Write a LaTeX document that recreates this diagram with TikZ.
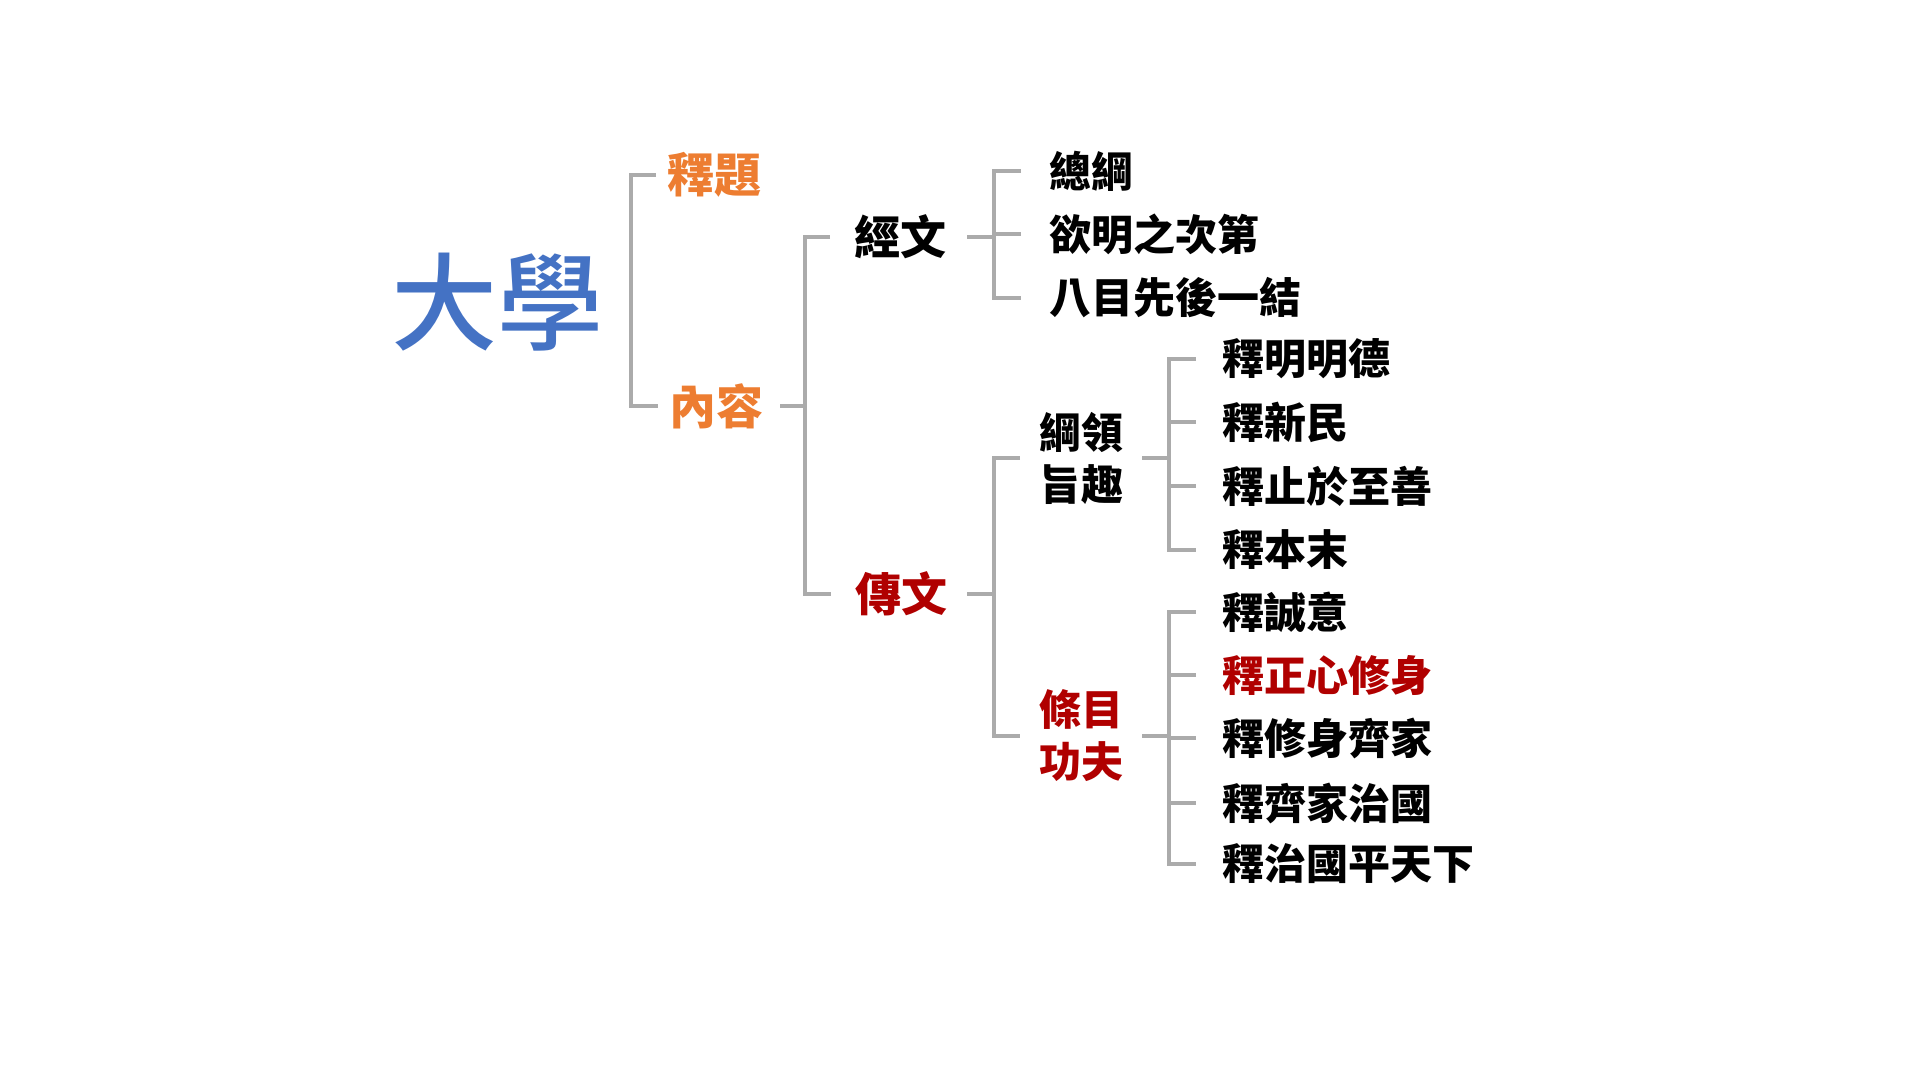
\documentclass[tikz,border=0pt]{standalone}
\usepackage{fontspec}
\newfontfamily\cjk{Noto Sans CJK TC}
\newfontfamily\cjkmed{Noto Sans CJK TC}[UprightFont=* Medium]
\definecolor{tblue}{HTML}{4472C4}
\definecolor{torange}{HTML}{ED7D31}
\definecolor{tred}{HTML}{B00000}
\definecolor{tgray}{HTML}{ABABAB}
\tikzset{
  base/.style={inner sep=0pt, outer sep=0pt, font=\cjk\bfseries},
  title/.style={base, font=\cjkmed\fontsize{106}{110}\selectfont, text=tblue},
  lvla/.style={base, font=\cjk\bfseries\fontsize{47}{52}\selectfont, text=torange},
  lvlb/.style={base, font=\cjk\bfseries\fontsize{46}{52}\selectfont},
  lvlc/.style={base, font=\cjk\bfseries\fontsize{42}{52}\selectfont, align=center},
  item/.style={base, anchor=west, font=\cjk\bfseries\fontsize{42}{50}\selectfont},
  conn/.style={draw=tgray, line width=3.2pt}
}
\begin{document}
\begin{tikzpicture}[x=1pt,y=-1pt]
\useasboundingbox (0,0) rectangle (1920,1080);
% nodes
\node[title] (daxue) at (497,302) {大學};
\node[lvla] (shiti) at (714,175) {釋題};
\node[lvla] (neirong) at (716,406) {內容};
\node[lvlb] (jingwen) at (900,237) {經文};
\node[lvlb, text=tred] (zhuanwen) at (901,594) {傳文};
\node[lvlc] (gangling) at (1081,458) {綱領\\旨趣};
\node[lvlc, text=tred] (tiaomu) at (1081,736) {條目\\功夫};
% 經文 children
\node[item] (zg) at (1049,171) {總綱};
\node[item] (ym) at (1049,234) {欲明之次第};
\node[item] (bm) at (1049,298) {八目先後一結};
% 綱領旨趣 children
\node[item] (g1) at (1222,359) {釋明明德};
\node[item] (g2) at (1222,422) {釋新民};
\node[item] (g3) at (1222,486) {釋止於至善};
\node[item] (g4) at (1222,550) {釋本末};
% 條目功夫 children
\node[item] (t1) at (1222,612) {釋誠意};
\node[item, text=tred] (t2) at (1222,675) {釋正心修身};
\node[item] (t3) at (1222,738) {釋修身齊家};
\node[item] (t4) at (1222,803) {釋齊家治國};
\node[item] (t5) at (1222,864) {釋治國平天下};
% spine coordinates
\coordinate (s1) at (631,0);
\coordinate (s2) at (805,0);
\coordinate (s3) at (994,0);
\coordinate (s5) at (1169,0);
% bracket 1
\draw[conn] ([xshift=-11pt]shiti.west) -- (s1 |- shiti.west) -- (s1 |- neirong.west) -- ([xshift=-11pt]neirong.west);
% bracket 2
\draw[conn] ([xshift=17pt]neirong.east) -- (s2 |- neirong.east);
\draw[conn] ([xshift=-24pt]jingwen.west) -- (s2 |- jingwen.west) -- (s2 |- zhuanwen.west) -- ([xshift=-24pt]zhuanwen.west);
% bracket 3 (經文)
\draw[conn] ([xshift=21pt]jingwen.east) -- (s3 |- jingwen.east);
\draw[conn] ([xshift=-28pt]zg.west) -- (s3 |- zg.west) -- (s3 |- bm.west) -- ([xshift=-28pt]bm.west);
\draw[conn] ([xshift=-28pt]ym.west) -- (s3 |- ym.west);
% bracket 4 (傳文)
\draw[conn] ([xshift=20pt]zhuanwen.east) -- (s3 |- zhuanwen.east);
\draw[conn] ([xshift=-19pt]gangling.west) -- (s3 |- gangling.west) -- (s3 |- tiaomu.west) -- ([xshift=-19pt]tiaomu.west);
% bracket 5 (綱領旨趣)
\draw[conn] ([xshift=19pt]gangling.east) -- (s5 |- gangling.east);
\draw[conn] ([xshift=-26pt]g1.west) -- (s5 |- g1.west) -- (s5 |- g4.west) -- ([xshift=-26pt]g4.west);
\draw[conn] ([xshift=-26pt]g2.west) -- (s5 |- g2.west);
\draw[conn] ([xshift=-26pt]g3.west) -- (s5 |- g3.west);
% bracket 6 (條目功夫)
\draw[conn] ([xshift=19pt]tiaomu.east) -- (s5 |- tiaomu.east);
\draw[conn] ([xshift=-26pt]t1.west) -- (s5 |- t1.west) -- (s5 |- t5.west) -- ([xshift=-26pt]t5.west);
\draw[conn] ([xshift=-26pt]t2.west) -- (s5 |- t2.west);
\draw[conn] ([xshift=-26pt]t3.west) -- (s5 |- t3.west);
\draw[conn] ([xshift=-26pt]t4.west) -- (s5 |- t4.west);
\end{tikzpicture}
\end{document}
